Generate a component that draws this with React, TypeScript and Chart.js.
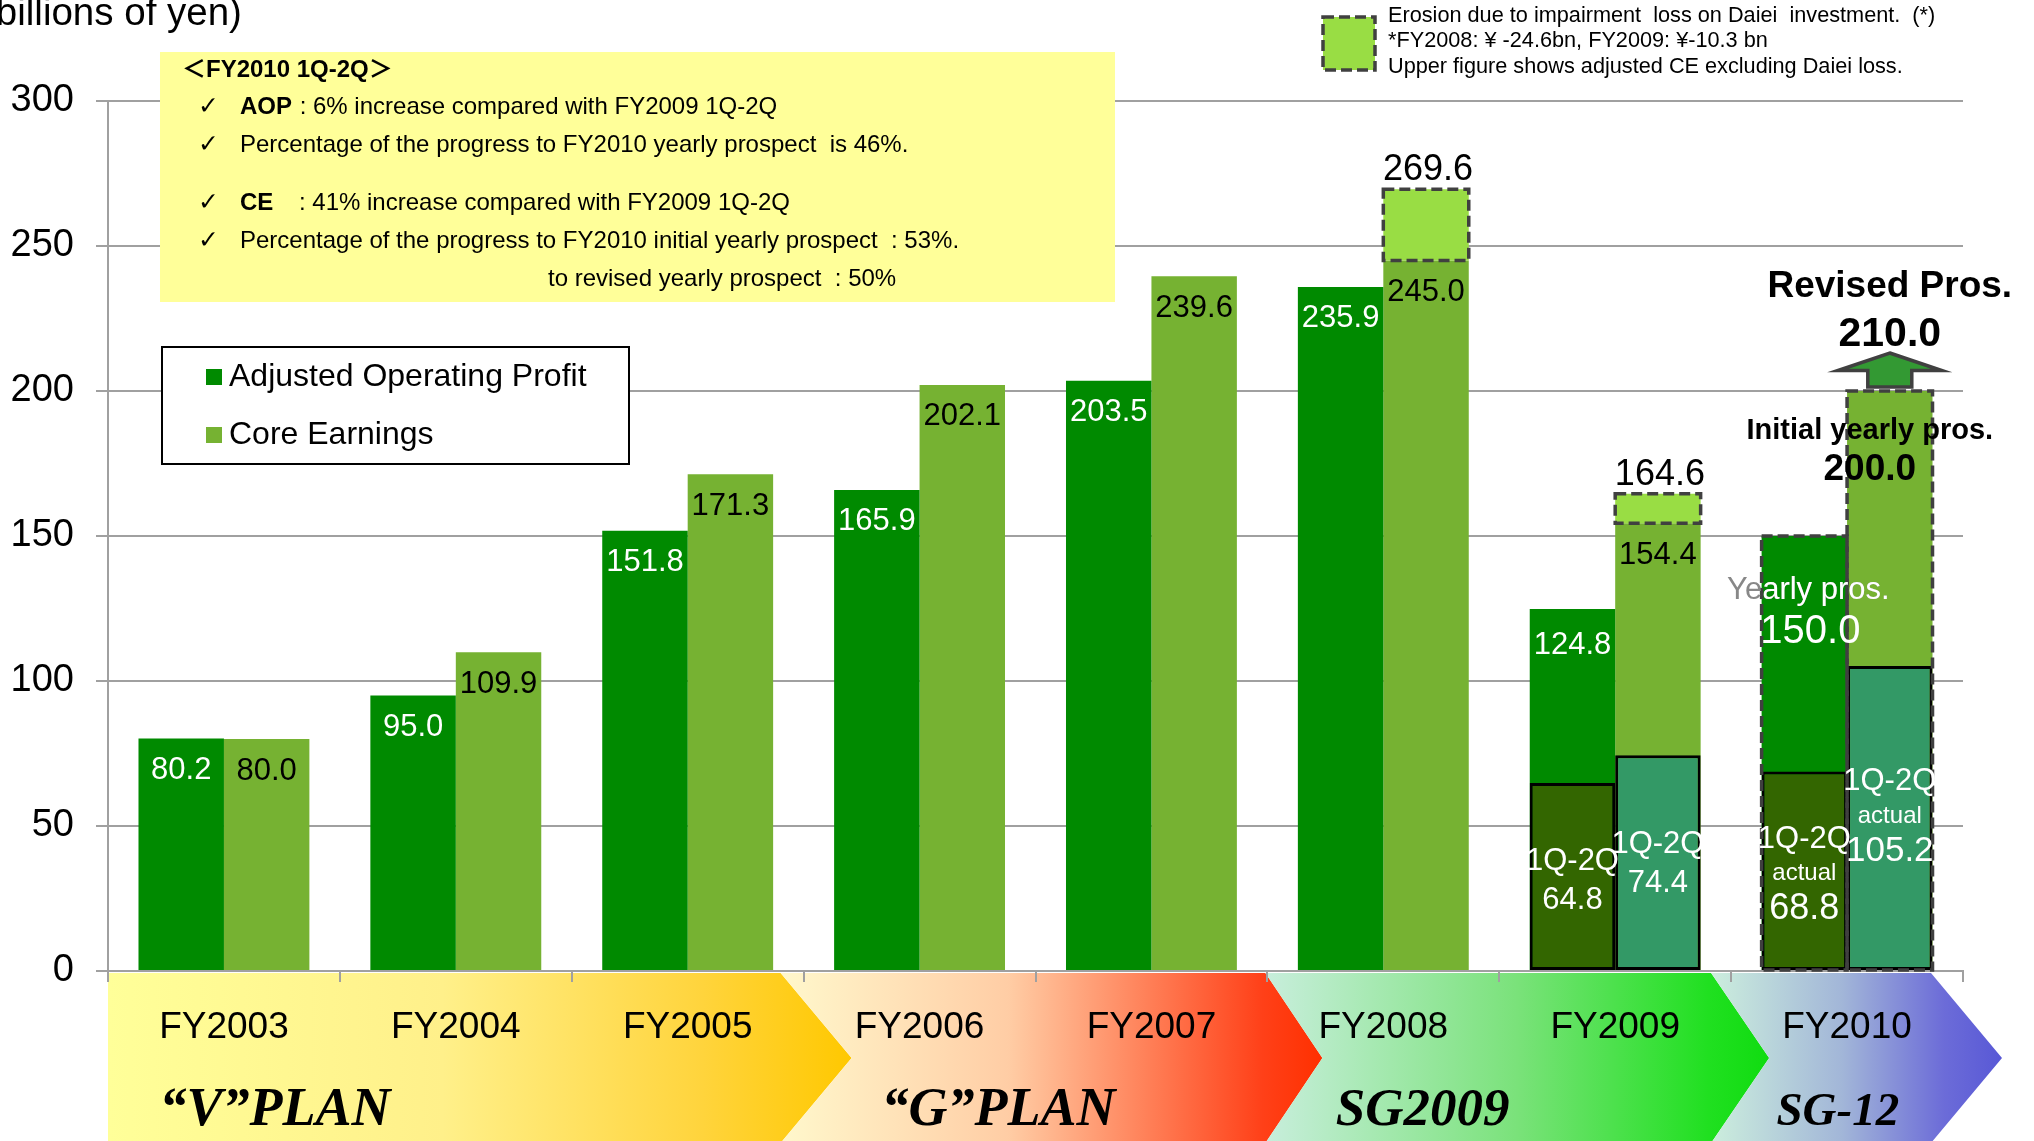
import React, { useEffect, useRef } from "react";
import { Chart, registerables } from "chart.js";

Chart.register(...registerables);

// ---------------- data ----------------
const categories = ["FY2003", "FY2004", "FY2005", "FY2006", "FY2007", "FY2008", "FY2009", "FY2010"];
const adjustedOperatingProfit = [80.2, 95.0, 151.8, 165.9, 203.5, 235.9, 124.8, 150.0];
const coreEarnings = [80.0, 109.9, 171.3, 202.1, 239.6, 245.0, 154.4, 200.0];
const coreEarningsExDaiei: (number | null)[] = [null, null, null, null, null, 269.6, 164.6, null];
const aopFirstHalf: (number | null)[] = [null, null, null, null, null, null, 64.8, 68.8];
const ceFirstHalf: (number | null)[] = [null, null, null, null, null, null, 74.4, 105.2];
const revisedProspect = 210.0;
const yTickValues = [0, 50, 100, 150, 200, 250, 300];
const planNames = ["\u201CV\u201DPLAN", "\u201CG\u201DPLAN", "SG2009", "SG-12"];
const planFirstYear = [0, 3, 5, 7];
const planLastYear = [2, 4, 6, 7];

// ---------------- styles ----------------
const SANS = "'Liberation Sans', Arial, Helvetica, sans-serif";
const SERIF = "'Liberation Serif', 'Times New Roman', serif";
const COLORS = {
  aop: "#008a00",
  ce: "#76b232",
  erosion: "#99dd44",
  aopHalf: "#336600",
  ceHalf: "#339966",
  grid: "#a0a0a0",
  dash: "#404040",
  note: "#ffff99",
};
const planTopInset = [-23, -2, -20, -32];
const planTipOffset = [48, 55, 38, 39];
const planLabelAt = [0.22, 3.34, 5.17, 6.96];
const planLabelSize = [54, 54, 53, 47];
const planGradients: [number, string][][] = [
  [[0, "#ffff99"], [0.45, "#fff08a"], [0.8, "#ffd43c"], [1, "#ffc800"]],
  [[0, "#fff8cc"], [0.42, "#ffcda5"], [0.89, "#ff4018"], [1, "#ff3000"]],
  [[0, "#c8eedc"], [0.5, "#7ae27a"], [0.88, "#20e020"], [1, "#10dc10"]],
  [[0, "#cceedd"], [0.45, "#a2b6d8"], [0.8, "#6c6cd8"], [1, "#5858d6"]],
];
const NOTE = 24;

function txt(
  ctx: CanvasRenderingContext2D,
  s: string,
  x: number,
  y: number,
  size: number,
  color: string,
  o: { bold?: boolean; italic?: boolean; align?: CanvasTextAlign; baseline?: CanvasTextBaseline; family?: string } = {}
) {
  ctx.save();
  ctx.font = `${o.italic ? "italic " : ""}${o.bold ? "bold " : ""}${size}px ${o.family || SANS}`;
  ctx.fillStyle = color;
  ctx.textAlign = o.align || "center";
  ctx.textBaseline = o.baseline || "middle";
  ctx.fillText(s, x, y);
  const w = ctx.measureText(s).width;
  ctx.restore();
  return w;
}

function rectOf(el: any) {
  return {
    l: el.x - el.width / 2,
    r: el.x + el.width / 2,
    t: Math.min(el.y, el.base),
    b: Math.max(el.y, el.base),
  };
}

function dashedRect(ctx: CanvasRenderingContext2D, l: number, t: number, r: number, b: number) {
  ctx.save();
  ctx.strokeStyle = COLORS.dash;
  ctx.lineWidth = 3.5;
  ctx.setLineDash([11, 5]);
  ctx.strokeRect(l, t, r - l, b - t);
  ctx.restore();
}

const overlayPlugin = {
  id: "overlay",
  beforeDraw(chart: any) {
    const { ctx, chartArea } = chart;
    const xs = chart.scales.x;
    const top = chartArea.bottom + 2;
    const bottom = chart.height + 2;
    const mid = (top + bottom) / 2;
    let prevTop = xs.getPixelForValue(planFirstYear[0] - 0.5);
    let prevTip = prevTop;
    ctx.save();
    planNames.forEach((_, k) => {
      const edge = xs.getPixelForValue(planLastYear[k] + 0.5);
      const rTop = edge + planTopInset[k];
      const rTip = edge + planTipOffset[k];
      ctx.beginPath();
      ctx.moveTo(prevTop, top);
      ctx.lineTo(rTop, top);
      ctx.lineTo(rTip, mid);
      ctx.lineTo(rTop, bottom);
      ctx.lineTo(prevTop, bottom);
      ctx.lineTo(prevTip, mid);
      ctx.closePath();
      const g = ctx.createLinearGradient(prevTop, 0, rTip, 0);
      planGradients[k].forEach(([p, c]) => g.addColorStop(p, c));
      ctx.fillStyle = g;
      ctx.fill();
      prevTop = rTop;
      prevTip = rTip;
    });
    ctx.restore();
    planNames.forEach((name, k) => {
      txt(ctx, name, xs.getPixelForValue(planLabelAt[k]), chartArea.bottom + 154, planLabelSize[k], "#000", {
        bold: true,
        italic: true,
        family: SERIF,
        baseline: "alphabetic",
      });
    });
  },
  afterDatasetsDraw(chart: any) {
    const { ctx } = chart;
    const ys = chart.scales.y;
    const mA = chart.getDatasetMeta(0).data;
    const mC = chart.getDatasetMeta(1).data;
    const mE = chart.getDatasetMeta(2).data;
    const mAH = chart.getDatasetMeta(3).data;
    const mCH = chart.getDatasetMeta(4).data;
    const last = categories.length - 1;

    // value labels inside yearly bars
    for (let i = 0; i < last; i++) {
      txt(ctx, adjustedOperatingProfit[i].toFixed(1), mA[i].x, mA[i].y + (i === 6 ? 36 : 32), 31, "#fff");
      txt(ctx, coreEarnings[i].toFixed(1), mC[i].x, mC[i].y + 32, 31, "#000");
    }

    // erosion (dashed boxes + adjusted values)
    coreEarningsExDaiei.forEach((v, i) => {
      if (v == null) return;
      const r = rectOf(mE[i]);
      dashedRect(ctx, r.l, r.t, r.r, r.b);
      txt(ctx, v.toFixed(1), mE[i].x + 2, r.t - 19, 36, "#000");
    });

    // FY2010 prospects: dashed outlines
    const aR = rectOf(mA[last]);
    const cR = rectOf(mC[last]);
    dashedRect(ctx, aR.l, aR.t, aR.r, aR.b);
    dashedRect(ctx, cR.l, cR.t, cR.r, cR.b);

    // 1Q-2Q labels
    const halfLabel = (el: any, lines: [string, number, number][]) => {
      lines.forEach(([s, dy, size]) => txt(ctx, s, el.x, el.y + dy, size, "#fff"));
    };
    halfLabel(mAH[6], [["1Q-2Q", 78, 31], [(aopFirstHalf[6] as number).toFixed(1), 117, 31]]);
    halfLabel(mCH[6], [["1Q-2Q", 89, 31], [(ceFirstHalf[6] as number).toFixed(1), 128, 31]]);
    halfLabel(mAH[7], [["1Q-2Q", 68, 31], ["actual", 102, 24], [(aopFirstHalf[7] as number).toFixed(1), 138, 36]]);
    halfLabel(mCH[7], [["1Q-2Q", 116, 31], ["actual", 150, 24], [(ceFirstHalf[7] as number).toFixed(1), 185, 35]]);

    // Yearly pros. (AOP FY2010)
    const yp = "Yearly pros.";
    txt(ctx, yp, mA[last].x + 4, aR.t + 54, 31, "#888");
    ctx.save();
    ctx.beginPath();
    ctx.rect(aR.l + 2, 0, 600, chart.height);
    ctx.clip();
    txt(ctx, yp, mA[last].x + 4, aR.t + 54, 31, "#fff");
    ctx.restore();
    txt(ctx, adjustedOperatingProfit[last].toFixed(1), mA[last].x + 6, aR.t + 96, 40, "#fff");

    // Initial yearly pros. (CE FY2010)
    txt(ctx, "Initial yearly pros.", mC[last].x - 20, cR.t + 40, 29, "#000", { bold: true });
    txt(ctx, coreEarnings[last].toFixed(1), mC[last].x - 20, cR.t + 79, 37, "#000", { bold: true });

    // Revised arrow
    const cx = mC[last].x;
    const tip = ys.getPixelForValue(revisedProspect) - 9;
    const headBase = tip + 17.5;
    const shaftBottom = cR.t - 4;
    ctx.save();
    ctx.beginPath();
    ctx.moveTo(cx, tip);
    ctx.lineTo(cx + 52, headBase);
    ctx.lineTo(cx + 22, headBase);
    ctx.lineTo(cx + 22, shaftBottom);
    ctx.lineTo(cx - 22, shaftBottom);
    ctx.lineTo(cx - 22, headBase);
    ctx.lineTo(cx - 52, headBase);
    ctx.closePath();
    ctx.fillStyle = "#339933";
    ctx.fill();
    ctx.strokeStyle = COLORS.dash;
    ctx.lineWidth = 3.5;
    ctx.lineJoin = "miter";
    ctx.stroke();
    ctx.restore();
    txt(ctx, revisedProspect.toFixed(1), cx, tip - 18, 41, "#000", { bold: true });
    txt(ctx, "Revised Pros.", cx, tip - 66, 37, "#000", { bold: true });

    // yellow note box
    ctx.save();
    ctx.fillStyle = COLORS.note;
    ctx.fillRect(160, 52, 955, 250);
    ctx.restore();
    txt(ctx, "\uFF1CFY2010 1Q-2Q\uFF1E", 182, 70, NOTE, "#000", {
      bold: true,
      align: "left",
      family: "'Liberation Sans', 'Noto Sans CJK JP', sans-serif",
    });
    [107, 145, 203.5, 241].forEach((y) =>
      txt(ctx, "\u2713", 198, y, 25, "#000", { align: "left", family: "'DejaVu Sans', sans-serif" })
    );
    const w1 = txt(ctx, "AOP", 240, 107, NOTE, "#000", { bold: true, align: "left" });
    txt(ctx, " : 6% increase compared with FY2009 1Q-2Q", 240 + w1 + 1, 107, NOTE, "#000", { align: "left" });
    txt(ctx, "Percentage of the progress to FY2010 yearly prospect  is 46%.", 240, 145, NOTE, "#000", { align: "left" });
    txt(ctx, "CE", 240, 203.5, NOTE, "#000", { bold: true, align: "left" });
    txt(ctx, ": 41% increase compared with FY2009 1Q-2Q", 299, 203.5, NOTE, "#000", { align: "left" });
    txt(ctx, "Percentage of the progress to FY2010 initial yearly prospect  : 53%.", 240, 241, NOTE, "#000", { align: "left" });
    txt(ctx, "to revised yearly prospect  : 50%", 548, 279, NOTE, "#000", { align: "left" });

    // legend box
    ctx.save();
    ctx.fillStyle = "#fff";
    ctx.fillRect(162, 347, 467, 117);
    ctx.strokeStyle = "#000";
    ctx.lineWidth = 2;
    ctx.strokeRect(162, 347, 467, 117);
    const ds = chart.data.datasets;
    ctx.fillStyle = ds[0].backgroundColor;
    ctx.fillRect(206, 369, 16, 16);
    ctx.fillStyle = ds[1].backgroundColor;
    ctx.fillRect(206, 427, 16, 16);
    ctx.restore();
    txt(ctx, ds[0].label, 229, 377, 32, "#000", { align: "left" });
    txt(ctx, ds[1].label, 229, 435, 32, "#000", { align: "left" });

    // erosion legend (top right)
    ctx.save();
    ctx.fillStyle = COLORS.erosion;
    ctx.fillRect(1323, 17, 52, 53);
    ctx.restore();
    dashedRect(ctx, 1323, 17, 1375, 70);
    txt(ctx, "Erosion due to impairment  loss on Daiei  investment.  (*)", 1388, 16, 21.7, "#000", { align: "left" });
    txt(ctx, "*FY2008: \u00A5 -24.6bn, FY2009: \u00A5-10.3 bn", 1388, 41, 21.7, "#000", { align: "left" });
    txt(ctx, "Upper figure shows adjusted CE excluding Daiei loss.", 1388, 67, 21.7, "#000", { align: "left" });

    // unit label
    txt(ctx, "(billions of yen)", -17, 25, 38.5, "#000", { align: "left", baseline: "alphabetic" });
  },
};

export default function App() {
  const ref = useRef<HTMLCanvasElement>(null);
  useEffect(() => {
    document.body.style.margin = "0";
    const canvas = ref.current;
    if (!canvas) return;
    Chart.defaults.font.family = SANS;
    const chart = new Chart(canvas, {
      type: "bar",
      data: {
        labels: categories,
        datasets: [
          {
            label: "Adjusted Operating Profit",
            data: adjustedOperatingProfit,
            backgroundColor: COLORS.aop,
            stack: "aop",
            order: 3,
          },
          {
            label: "Core Earnings",
            data: coreEarnings,
            backgroundColor: COLORS.ce,
            stack: "ce",
            order: 3,
          },
          {
            label: "Erosion due to impairment loss on Daiei investment",
            data: coreEarningsExDaiei.map((v, i) => (v == null ? null : [coreEarnings[i], v])) as any,
            backgroundColor: COLORS.erosion,
            stack: "ce",
            order: 2,
          },
          {
            label: "AOP 1Q-2Q",
            data: aopFirstHalf,
            backgroundColor: COLORS.aopHalf,
            borderColor: "#000",
            borderWidth: 3,
            borderSkipped: false,
            stack: "aop",
            order: 1,
          },
          {
            label: "CE 1Q-2Q",
            data: ceFirstHalf,
            backgroundColor: COLORS.ceHalf,
            borderColor: "#000",
            borderWidth: 3,
            borderSkipped: false,
            stack: "ce",
            order: 1,
          },
        ] as any,
      },
      options: {
        responsive: false,
        animation: false,
        devicePixelRatio: 1,
        layout: { padding: { top: 101, right: 71, bottom: 0, left: 0 } },
        datasets: { bar: { categoryPercentage: 0.737, barPercentage: 1.0 } },
        plugins: { legend: { display: false }, tooltip: { enabled: false } },
        scales: {
          x: {
            stacked: true,
            grid: {
              offset: true,
              drawOnChartArea: false,
              drawTicks: true,
              tickLength: 11,
              color: COLORS.grid,
              lineWidth: 2,
            },
            border: { display: true, color: COLORS.grid, width: 2 },
            ticks: { font: { size: 37, family: SANS }, color: "#000", padding: 24, maxRotation: 0, autoSkip: false },
            afterFit: (s: any) => {
              s.height = 170;
            },
          },
          y: {
            stacked: false,
            min: 0,
            max: 300,
            afterBuildTicks: (s: any) => {
              s.ticks = yTickValues.map((v) => ({ value: v }));
            },
            grid: { color: COLORS.grid, lineWidth: 2, tickLength: 12, drawTicks: true },
            border: { display: true, color: COLORS.grid, width: 2 },
            ticks: { font: { size: 38, family: SANS }, color: "#000", padding: 22 },
            afterFit: (s: any) => {
              s.width = 108;
            },
          },
        },
      } as any,
      plugins: [overlayPlugin as any],
    });
    return () => chart.destroy();
  }, []);
  return (
    <div style={{ width: 2034, height: 1141, background: "#fff", overflow: "hidden" }}>
      <canvas ref={ref} width={2034} height={1141} style={{ display: "block", width: 2034, height: 1141 }} />
    </div>
  );
}
